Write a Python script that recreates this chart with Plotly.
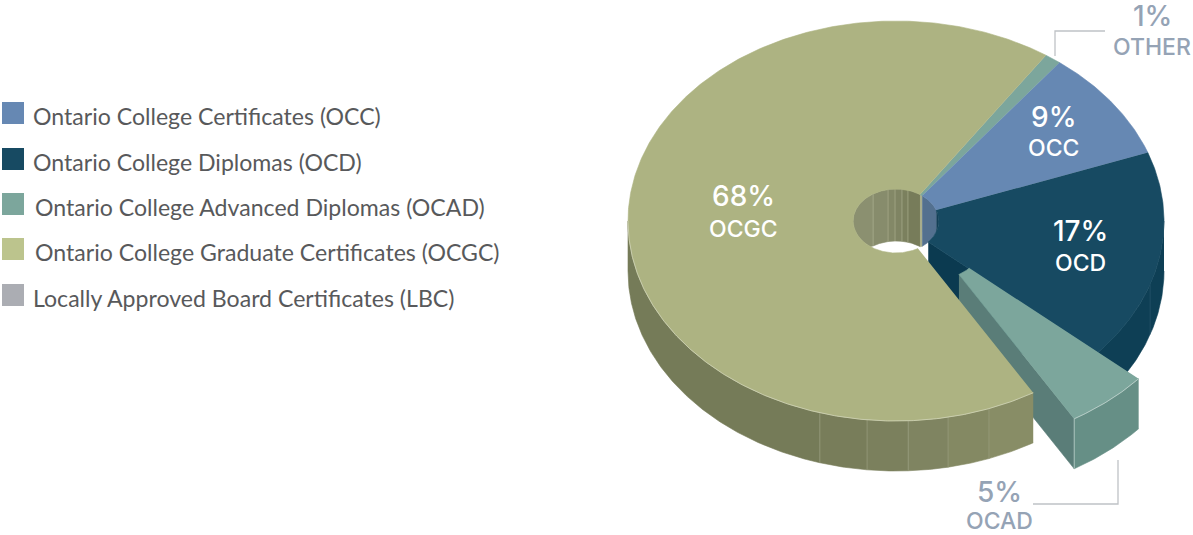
import numpy as np
import plotly.graph_objects as go

# ---- data ----
legend_names = ["Ontario College Certificates (OCC)", "Ontario College Diplomas (OCD)",
                "Ontario College Advanced Diplomas (OCAD)", "Ontario College Graduate Certificates (OCGC)",
                "Locally Approved Board Certificates (LBC)"]
slice_codes = ["OCC", "OCD", "OCAD", "OCGC", "OTHER"]
slice_shares = [9, 17, 5, 68, 1]

# ---- styling and geometry ----
COL = dict(OCC="#6688B3", OCD="#174A62", OCAD="#7CA69C", OCGC="#ADB382", OTHER="#7CA69C")
LEG_COL = ["#6688B3", "#174A62", "#7CA69C", "#BCC48D", "#ABADB3"]
LEG_Y = [113, 159, 204, 249, 295]
LEG_X = [30.5, 30.5, 32.5, 32.5, 30.5]
CX, CY, RX, RY, DEPTH, HOLE = 896, 221, 268, 200, 50, 0.16
HOLE_DEPTH = 52
START = 37.6
EXPLODE = (41, 26)
FONT = "Inter"
LEG_FONT = "Lato"
GREY = "#95A3B5"

fig = go.Figure()


def pt(t, r=1.0, off=(0, 0)):
    t = np.radians(t)
    return CX + RX * r * np.sin(t) + off[0], CY - RY * r * np.cos(t) + off[1]


def arc(t1, t2, r=1.0, off=(0, 0)):
    n = max(2, int(abs(t2 - t1)) * 2 + 2)
    return pt(np.linspace(t1, t2, n), r, off)


def poly(x, y, color, lw=0.6, lc=None):
    fig.add_trace(go.Scatter(x=list(x), y=list(y), mode="lines", fill="toself", fillcolor=color,
                             line=dict(color=lc or color, width=lw), hoverinfo="skip", showlegend=False))


def line(x, y, color, lw=0.8):
    fig.add_trace(go.Scatter(x=list(x), y=list(y), mode="lines", line=dict(color=color, width=lw),
                             hoverinfo="skip", showlegend=False))


def top(t1, t2, color, off=(0, 0)):
    ox, oy = arc(t1, t2, 1, off)
    ix, iy = arc(t2, t1, HOLE, off)
    poly(np.r_[ox, ix], np.r_[oy, iy], color)


def outer_wall(t1, t2, color, off=(0, 0)):
    ox, oy = arc(t1, t2, 1, off)
    poly(np.r_[ox, ox[::-1]], np.r_[oy, oy[::-1] + DEPTH], color)


def inner_wall(t1, t2, color):
    ts = np.linspace(t1, t2, max(2, int(t2 - t1) * 2 + 2))
    x, y = pt(ts, HOLE)
    front = CY + RY * HOLE * np.cos(np.radians(ts))
    low = np.minimum(y + HOLE_DEPTH, front)
    poly(np.r_[x, x[::-1]], np.r_[y, low[::-1]], color)


def mix(a, b, f):
    a = [int(a[i:i + 2], 16) for i in (1, 3, 5)]
    b = [int(b[i:i + 2], 16) for i in (1, 3, 5)]
    return "#%02X%02X%02X" % tuple(int(round(p + (q - p) * f)) for p, q in zip(a, b))


edges = START + np.cumsum([0] + [s * 3.6 for s in slice_shares])
ang = {c: (edges[i], edges[i + 1]) for i, c in enumerate(slice_codes)}

# inner wall of the hole (far side)
gc_end = ang["OCGC"][1] - 360
hole_breaks = [-90, -32.3, -10.7, -1.3, 8, 16.2, gc_end]
for i in range(len(hole_breaks) - 1):
    inner_wall(hole_breaks[i], hole_breaks[i + 1], mix("#8B9070", "#777C5A", i / (len(hole_breaks) - 2)))
for b in hole_breaks[1:-1]:
    x0, y0 = pt(b, HOLE)
    line([x0, x0], [y0, min(y0 + HOLE_DEPTH, CY + RY * HOLE * np.cos(np.radians(b)))], "#A9AD8C", 0.7)
inner_wall(gc_end, ang["OTHER"][1] - 360, "#A8AD8C")
inner_wall(ang["OCC"][0], ang["OCC"][1], "#53708F")
inner_wall(ang["OCD"][0], 90, "#133F57")

# OCD side faces
outer_wall(90, ang["OCD"][1], "#0E3F55")
x0, y0 = pt(ang["OCD"][1], HOLE)
x1, y1 = pt(ang["OCD"][1], 1)
poly([x0, x1, x1, x0], [y0, y1, y1 + DEPTH, y0 + DEPTH], "#0B3A50")
x_s, y_s = pt(108.5)
line([x_s, x_s], [y_s, y_s + DEPTH], "#2A566B", 0.7)

# flat tops at the back
top(*ang["OTHER"], COL["OTHER"])
top(*ang["OCC"], COL["OCC"])
top(ang["OCD"][0], ang["OCD"][1], COL["OCD"])

# exploded OCAD
t1, t2 = ang["OCAD"]
x0, y0 = pt(t2, HOLE, EXPLODE)
x1, y1 = pt(t2, 1, EXPLODE)
poly([x0, x1, x1, x0], [y0, y1, y1 + DEPTH, y0 + DEPTH], "#5A7D78")
outer_wall(t1, t2, "#668F86", EXPLODE)
top(t1, t2, COL["OCAD"], EXPLODE)
ax, ay = arc(t1, t2, 1, EXPLODE)
line(ax, ay, "#C4D6D0", 0.8)
line([x1, x1], [y1, y1 + DEPTH], "#A9C2BC", 1)

# OCGC wall with shaded facets
g1 = ang["OCGC"][0]
wall_breaks = [g1, 159.7, 168.8, 177.4, 186.2, 196.5, 270]
wall_cols = ["#888D66", "#848963", "#7F8461", "#7B805D", "#787D5A", "#757B58"]
for i in range(len(wall_cols)):
    outer_wall(wall_breaks[i], wall_breaks[i + 1], wall_cols[i])
for b in wall_breaks[1:-1]:
    x0, y0 = pt(b)
    line([x0, x0], [y0, y0 + DEPTH], "#9A9E7E", 0.7)
top(g1, ang["OCGC"][1], COL["OCGC"])
rx_, ry_ = arc(g1, 270)
line(rx_, ry_, "#D5D8BE", 0.7)

# leader lines
LEADER = "#BFC2C6"
line([1055, 1055, 1105], [56, 31, 31], LEADER, 1.3)
line([1118, 1118, 1033], [460, 504, 504], LEADER, 1.3)

# labels, from the data
pos = dict(OCC=(1053, 117, 148, "white"), OCD=(1080, 231, 263, "white"), OCGC=(743, 196, 229, "white"),
           OCAD=(999, 492, 521, GREY), OTHER=(1152, 16, 47, GREY))
ann = []
for code, share in zip(slice_codes, slice_shares):
    x, y1_, y2_, c = pos[code]
    ann.append(dict(x=x, y=y1_, text=f"{share}%", showarrow=False, font=dict(family=FONT, size=28, weight=500, color=c)))
    ann.append(dict(x=x, y=y2_, text=code, showarrow=False, font=dict(family=FONT, size=23, weight=500, color=c)))
for name, x, y in zip(legend_names, LEG_X, LEG_Y):
    ann.append(dict(x=x, y=y + 3, text=name, showarrow=False, xanchor="left",
                    font=dict(family=LEG_FONT, size=23.1, color="#58595B")))
fig.add_trace(go.Scatter(x=[13] * 5, y=LEG_Y, mode="markers", hoverinfo="skip", showlegend=False,
                         marker=dict(symbol="square", size=22, color=LEG_COL, line=dict(width=0))))

fig.update_layout(width=1193, height=535, margin=dict(l=0, r=0, t=0, b=0), showlegend=False,
                  paper_bgcolor="white", plot_bgcolor="white", annotations=ann,
                  xaxis=dict(range=[0, 1193], visible=False, fixedrange=True),
                  yaxis=dict(range=[535, 0], visible=False, fixedrange=True))
fig.write_html("out.html", config=dict(displayModeBar=False),
               post_script="document.body.style.margin='0';")
